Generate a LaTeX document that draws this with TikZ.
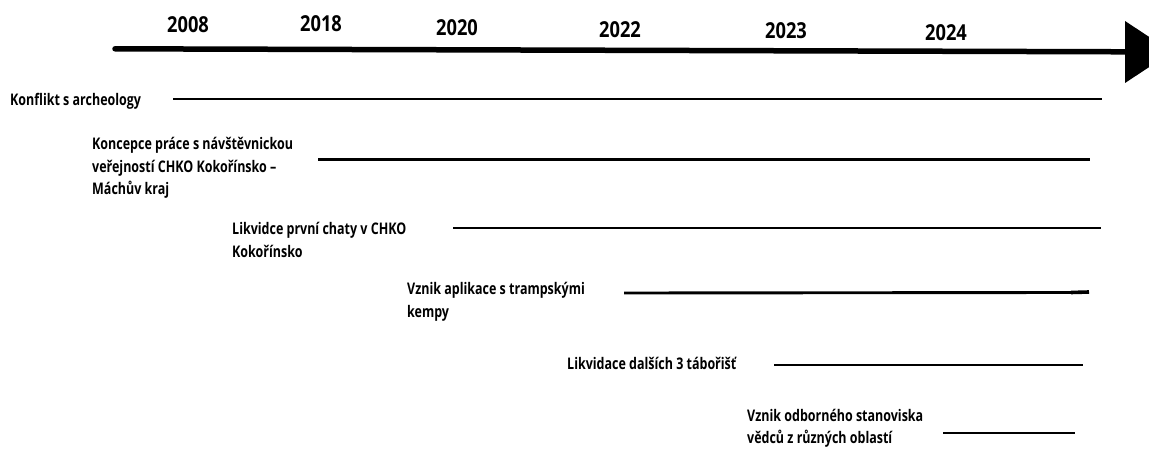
\documentclass[tikz,border=0pt]{standalone}
\usepackage{fontspec}
\setmainfont{Open Sans}[FakeStretch=0.78]
\newfontfamily\yearfont{Open Sans}[FakeStretch=0.83]
\tikzset{
  lbl/.style={anchor=base west, inner sep=0pt, font=\fontsize{16}{22.7}\selectfont\bfseries},
  yr/.style={anchor=base, inner sep=0pt, font=\yearfont\fontsize{22}{25}\selectfont\bfseries},
  bar/.style={line width=2.9pt},
  axisline/.style={line width=5.5pt, line cap=round},
}
\newcommand{\ml}[1]{\begin{tabular}[t]{@{}l@{}}#1\end{tabular}}
\begin{document}
\begin{tikzpicture}[x=1pt,y=-1pt]
\useasboundingbox (0,0) rectangle (1149,449);
\clip (0,0) rectangle (1149,449);
% axis
\coordinate (a0) at (115,48.8);
\coordinate (a1) at (1127,51.8);
\draw[axisline] (a0) -- (a1);
\fill (1125,21) -- (1125,83) -- (1172,52) -- cycle;
% years
\node[yr] (y2008) at (188,33) {2008};
\node[yr] (y2018) at (321,32) {2018};
\node[yr] (y2020) at (457,36) {2020};
\node[yr] (y2022) at (620,38) {2022};
\node[yr] (y2023) at (786,39) {2023};
\node[yr] (y2024) at (946,41) {2024};
% labels
\node[lbl] (t1) at (10,105.5) {Konflikt s archeology};
\node[lbl] (t2) at (92,149.5) {\ml{Koncepce práce s návštěvnickou\\veřejností CHKO Kokořínsko –\\Máchův kraj}};
\node[lbl] (t3) at (232,235) {\ml{Likvidce první chaty v CHKO\\Kokořínsko}};
\node[lbl] (t4) at (407,294.5) {\ml{Vznik aplikace s trampskými\\kempy}};
\node[lbl] (t5) at (567,369.5) {Likvidace dalších 3 tábořišť};
\node[lbl] (t6) at (747,421) {\ml{Vznik odborného stanoviska\\vědců z různých oblastí}};
% bars
\coordinate (s1) at (173,99);  \coordinate (e1) at (1102,99);
\coordinate (s2) at (318,159.5); \coordinate (e2) at (1090,159.5);
\coordinate (s3) at (453,228); \coordinate (e3) at (1101,228);
\coordinate (s4) at (624,293); \coordinate (m4) at (1071,292.5); \coordinate (e4) at (1089,292);
\coordinate (s5) at (774,365); \coordinate (e5) at (1083,365);
\coordinate (s6) at (943,433); \coordinate (e6) at (1075,433);
\draw[bar] (s1) -- (e1);
\draw[bar] (s2) -- (e2);
\draw[bar] (s3) -- (e3);
\draw[bar] (s4) -- (m4);
\draw[bar, line width=3.6pt] (m4) -- (e4);
\draw[bar] (s5) -- (e5);
\draw[bar] (s6) -- (e6);
\end{tikzpicture}
\end{document}
